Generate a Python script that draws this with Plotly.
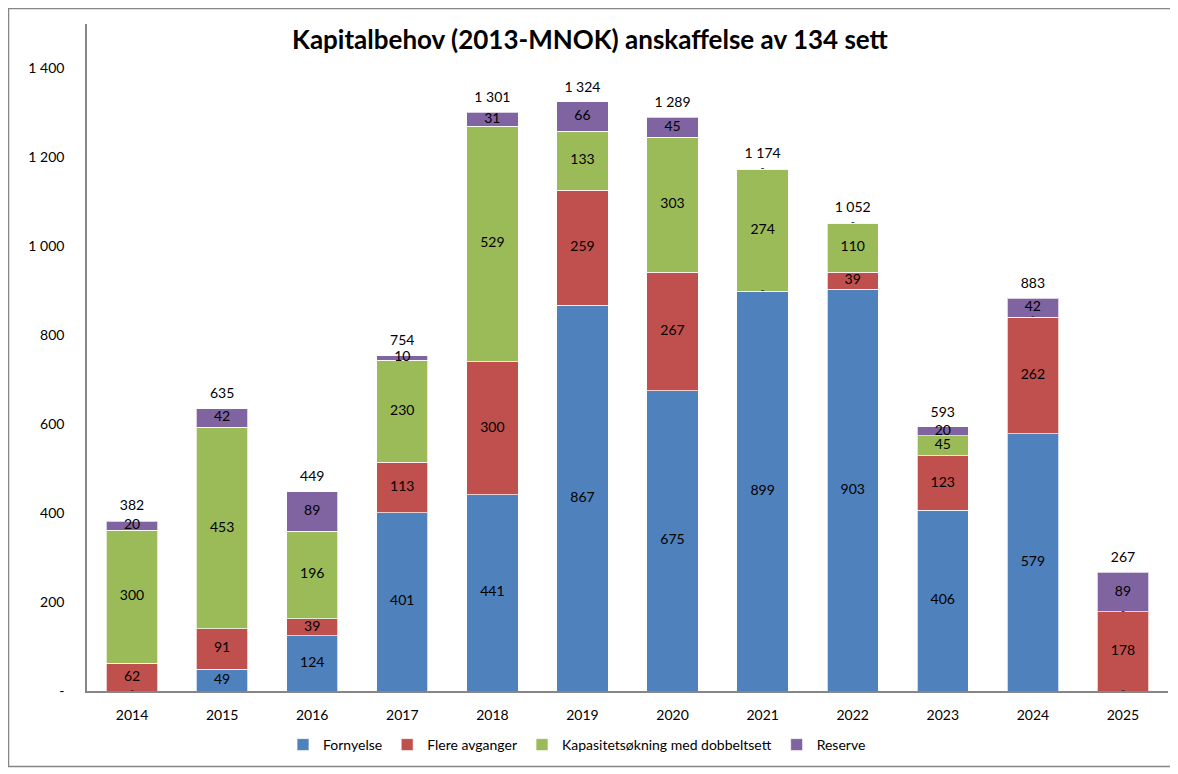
import plotly.graph_objects as go

years = ["2014", "2015", "2016", "2017", "2018", "2019", "2020", "2021", "2022", "2023", "2024", "2025"]
fornyelse = [0, 49, 124, 401, 441, 867, 675, 899, 903, 406, 579, 0]
flere_avganger = [62, 91, 39, 113, 300, 259, 267, 0, 39, 123, 262, 178]
kapasitet = [300, 453, 196, 230, 529, 133, 303, 274, 110, 45, 0, 0]
reserve = [20, 42, 89, 10, 31, 66, 45, 0, 0, 20, 42, 89]
totals = [382, 635, 449, 754, 1301, 1324, 1289, 1174, 1052, 593, 883, 267]

y_tickvals = [0, 200, 400, 600, 800, 1000, 1200, 1400]
y_ticktext = ["-", "200", "400", "600", "800", "1 000", "1 200", "1 400"]

series = [
    ("Fornyelse", fornyelse, "#4F81BD"),
    ("Flere avganger", flere_avganger, "#C0504D"),
    ("Kapasitetsøkning med dobbeltsett", kapasitet, "#9BBB59"),
    ("Reserve", reserve, "#8064A2"),
]

FONT = "Lato"

def fmt(v):
    if v == 0:
        return ""
    return f"{v:,}".replace(",", " ")

fig = go.Figure()
base = [0] * len(years)
lab_x, lab_y, lab_t = [], [], []
zero_x, zero_y = [], []
for name, vals, col in series:
    fig.add_trace(go.Bar(
        x=years, y=vals, name=name,
        marker=dict(color=col, line=dict(color="rgba(255,255,255,0.7)", width=1)),
        hoverinfo="skip",
    ))
    for i, v in enumerate(vals):
        if v == 0:
            zero_x.append(years[i])
            zero_y.append(base[i])
        else:
            lab_x.append(years[i])
            lab_y.append(base[i] + v / 2)
            lab_t.append(fmt(v))
        base[i] += v

# segment value labels, centred in each segment
fig.add_trace(go.Scatter(
    x=lab_x, y=lab_y, mode="text", text=lab_t,
    textposition="middle center", textfont=dict(family=FONT, size=14, color="black"),
    showlegend=False, hoverinfo="skip",
))

# dash markers for zero-valued segments
fig.add_trace(go.Scatter(
    x=zero_x, y=zero_y, mode="text", text=["-"] * len(zero_x),
    textposition="middle center", textfont=dict(family=FONT, size=11, color="#333333"),
    showlegend=False, hoverinfo="skip",
))

# totals above the stacks (invisible marker pushes the text up a little)
fig.add_trace(go.Scatter(
    x=years, y=totals, mode="markers+text", text=[fmt(t) for t in totals],
    marker=dict(size=10, color="rgba(0,0,0,0)"),
    textposition="top center", textfont=dict(family=FONT, size=14, color="black"),
    showlegend=False, hoverinfo="skip",
))

# page body adds an 8px offset; targets below are in screenshot pixels
OFF = 8
W, H = 1178 - OFF, 774 - OFF
L, R, T = 87 - OFF, 1178 - 1168, 24 - OFF
B = H - (691 - OFF)
pw, ph = W - L - R, H - T - B

def px_x(x):
    return (x - OFF - L) / pw

def px_y(y):
    return ((H - B) - (y - OFF)) / ph

fig.add_shape(type="rect", xref="paper", yref="paper",
              x0=px_x(8.5), x1=px_x(1171.5),
              y0=px_y(766.5), y1=px_y(8.5),
              line=dict(color="#868686", width=1.5), fillcolor="rgba(0,0,0,0)", layer="below")

fig.update_layout(
    width=W, height=H,
    margin=dict(l=L, r=R, t=T, b=B),
    barmode="stack", bargap=0.43,
    plot_bgcolor="white", paper_bgcolor="white",
    font=dict(family=FONT, size=14, color="black"),
    title=dict(text="<b>Kapitalbehov (2013-MNOK) anskaffelse av 134 sett</b>",
               x=px_x(590), xanchor="center", xref="paper",
               y=1 - (40 - OFF) / H, yanchor="middle",
               font=dict(family=FONT, size=26, color="black")),
    legend=dict(orientation="h", x=px_x(577), xanchor="center", y=px_y(745), yanchor="middle",
                font=dict(family=FONT, size=14), traceorder="normal"),
    showlegend=True,
)
fig.update_xaxes(type="category", categoryorder="array", categoryarray=years,
                 range=[-0.5, len(years) - 0.5],
                 showline=True, linecolor="#868686", linewidth=1.5, showgrid=False,
                 ticks="outside", ticklen=10, tickcolor="rgba(0,0,0,0)",
                 tickfont=dict(family=FONT, size=14))
fig.update_yaxes(range=[0, 1500], showline=True, linecolor="#868686", linewidth=1.5, showgrid=False,
                 zeroline=False, tickvals=y_tickvals, ticktext=y_ticktext, ticks="outside",
                 ticklen=18, tickcolor="rgba(0,0,0,0)",
                 tickfont=dict(family=FONT, size=14))

fig.write_html("out.html")
